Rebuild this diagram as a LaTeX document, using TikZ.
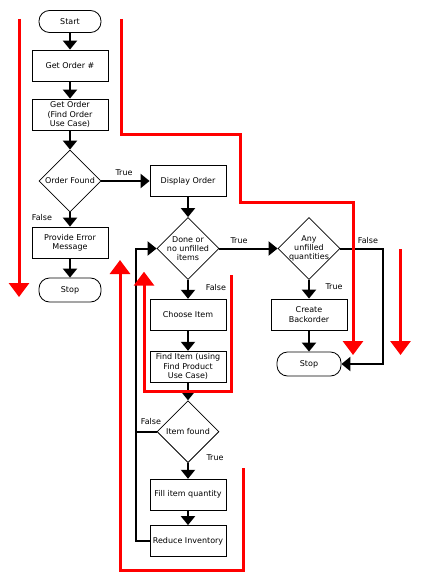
\documentclass[tikz,border=0pt]{standalone}
\usepackage{fontspec}
\setmainfont{DejaVu Sans}
\usetikzlibrary{shapes.geometric,arrows.meta}
\begin{document}
\begin{tikzpicture}[x=1pt,y=-1pt,
  txt/.style={font=\fontsize{8}{9.3}\selectfont},
  box/.style={draw, line width=0.8pt, minimum width=76pt, minimum height=31pt, inner sep=1pt, align=center, txt},
  term/.style={box, rounded corners=10.5pt, minimum width=62pt, minimum height=22pt},
  dec/.style={draw, diamond, line width=0.8pt, minimum width=62pt, minimum height=62pt, inner sep=0pt},
  lbl/.style={txt, align=center, inner sep=0pt},
  wire/.style={line width=2pt},
  conn/.style={wire, -{Triangle[width=14pt,length=9pt]}},
  redarr/.style={draw=red, line width=3pt, -{Triangle[width=20pt,length=14pt]}}]
\useasboundingbox[fill=white] (0,0) rectangle (422,580);

% left column
\node[term] (start) at (70,21.5) {Start};
\node[box] (getnum) at (70,65.5) {Get Order \#};
\node[box] (getorder) at (70,114.5) {Get Order\\(Find Order\\Use Case)};
\node[dec, label={[lbl]center:Order Found}] (found) at (70,181) {};
\node[box] (error) at (70,242.5) {Provide Error\\Message};
\node[term, minimum height=24pt] (stop1) at (70,290) {Stop};

% middle column
\node[box] (display) at (188,181) {Display Order};
\node[dec, label={[lbl]center:{Done or\\no unfilled\\items}}] (done) at (188,248.5) {};
\node[box] (choose) at (188,314.7) {Choose Item};
\node[box] (find) at (188,366.7) {Find Item (using\\Find Product\\Use Case)};
\node[dec, label={[lbl]center:Item found}] (itemfound) at (188,431.7) {};
\node[box] (fill) at (188,494.7) {Fill item quantity};
\node[box] (reduce) at (188,541) {Reduce Inventory};

% right column
\node[dec, label={[lbl]center:{Any\\unfilled\\quantities}}] (any) at (309,248.5) {};
\node[box] (backorder) at (309,314.5) {Create\\Backorder};
\node[term, minimum width=64pt, minimum height=24pt] (stop2) at (309,364) {Stop};

% branch labels
\node[lbl] (f1) at (42,218) {False};
\node[lbl] (t1) at (124,173) {True};
\node[lbl] (t2) at (239,241) {True};
\node[lbl] (f2) at (216,288) {False};
\node[lbl] (f3) at (151,422) {False};
\node[lbl] (t3) at (215,458) {True};
\node[lbl] (t4) at (334,287) {True};
\node[lbl] (f4) at (368,241) {False};

% connectors
\draw[conn] (start) -- (getnum);
\draw[conn] (getnum) -- (getorder);
\draw[conn] (getorder) -- (found);
\draw[conn] (found) -- (error);
\draw[conn] (error) -- (stop1);
\draw[conn] (found.east) -- (display.west);
\draw[conn] (display) -- (done);
\draw[conn] (done.east) -- (any.west);
\draw[conn] (done) -- (choose);
\draw[conn] (choose) -- (find);
\draw[conn] (find) -- (itemfound);
\draw[conn] (itemfound) -- (fill);
\draw[conn] (fill) -- (reduce);
\draw[conn] (any) -- (backorder);
\draw[conn] (backorder) -- (stop2);

\coordinate (loopbot) at (136,541);
\coordinate (looptop) at (136,248.5);
\draw[conn] (reduce.west) -- (loopbot) -- (looptop) -- (done.west);
\draw[wire] (itemfound.west) -- (itemfound.west -| loopbot);

\coordinate (fr1) at (383,248.5);
\coordinate (fr2) at (383,364);
\draw[conn] (any.east) -- (fr1) -- (fr2) -- (stop2.east);

% red flow arrows
\draw[redarr] (19,19) -- (19,297);
\draw[redarr] (121,19) -- (121,135) -- (240.5,135) -- (240.5,202) -- (353,202) -- (353,355);
\draw[redarr] (400.5,249) -- (400.5,355);
\draw[redarr] (243,468) -- (243,570) -- (120,570) -- (120,260);
\draw[redarr] (231.7,275) -- (231.7,391.7) -- (144,391.7) -- (144,271.7);
\end{tikzpicture}
\end{document}
